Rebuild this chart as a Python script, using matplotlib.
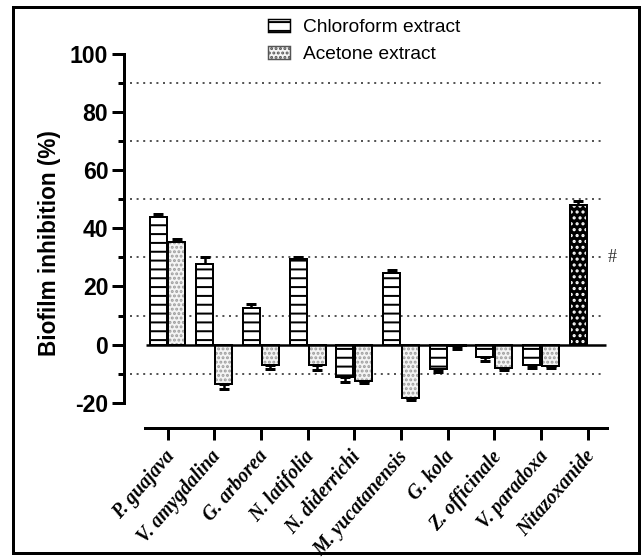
import numpy as np
import matplotlib.pyplot as plt
from matplotlib.patches import Patch, Rectangle
from matplotlib.transforms import ScaledTranslation

plants = ['P. guajava', 'V. amygdalina', 'G. arborea', 'N. latifolia', 'N. diderrichi',
          'M. yucatanensis', 'G. kola', 'Z. officinale', 'V. paradoxa']
tick_labels = plants + ['Nitazoxanide']

chloroform = [44.0, 27.8, 12.6, 29.5, -11.0, 24.6, -8.5, -4.3, -7.0]
chloroform_err = [1.0, 2.2, 1.5, 0.7, 1.8, 1.0, 0.9, 1.4, 1.1]
acetone = [35.4, -13.4, -6.9, -6.9, -12.4, -18.3, -0.5, -8.0, -7.4]
acetone_err = [1.1, 2.0, 1.5, 2.0, 0.7, 0.9, 1.0, 0.9, 0.6]
nitazoxanide = [48.0]
nitazoxanide_err = [1.4]

DPI = 106
W, H = 644, 560


def px(v):
    # pixel size -> points
    return v * 72 / DPI


plt.rcParams['hatch.linewidth'] = px(2)
plt.rcParams['axes.unicode_minus'] = False
plt.rcParams['font.family'] = 'Liberation Sans'

fig = plt.figure(figsize=(W / DPI, H / DPI), dpi=DPI)
ax = fig.add_axes([124.3 / W, (H - 402.7) / H, (607 - 124.3) / W, 348.7 / H])

x = np.arange(len(plants))
off = 0.203
w = 0.364


def one_sided(vals, errs):
    lo = [e if v < 0 else 0 for v, e in zip(vals, errs)]
    hi = [e if v >= 0 else 0 for v, e in zip(vals, errs)]
    return [lo, hi]


def bars(xs, vals, errs, face, hcolor, hatch):
    ax.errorbar(xs, vals, yerr=one_sided(vals, errs), fmt='none', ecolor='black',
                elinewidth=px(2.5), capsize=px(5), capthick=px(3), zorder=1)
    ax.bar(xs, vals, w, color=face, edgecolor=hcolor, hatch=hatch, linewidth=0, zorder=2)
    ax.bar(xs, vals, w, fill=False, edgecolor='black', linewidth=px(2), zorder=3)


bars(x - off, chloroform, chloroform_err, 'white', 'black', '--')
bars(x + off, acetone, acetone_err, '#f4f4f4', '#9c9c9c', '....')
bars([len(plants) - off], nitazoxanide, nitazoxanide_err, 'black', 'white', '...')

ax.hlines(0, -0.46, 9.39, color='black', lw=px(2.5), zorder=4)
ax.hlines([90, 70, 50, 30, 10, -10], -0.803, 9.33, colors='#555555',
          linestyles=(0, (1, 2.3)), lw=px(2), zorder=0)
ax.text(9.52, 30, '#', ha='center', va='center', fontsize=px(18), color='#333333',
        family='Liberation Serif')

ax.set_xlim(-0.925, 9.41)
ax.set_ylim(-20, 100)
for s in ['top', 'right', 'bottom']:
    ax.spines[s].set_visible(False)
ax.spines['left'].set_linewidth(px(3))
ax.set_xticks([])
ax.set_yticks(np.arange(-20, 101, 20))
ax.set_yticks(np.arange(-10, 91, 20), minor=True)
ax.tick_params(axis='y', which='major', length=px(12), width=px(3), pad=px(4),
               labelsize=px(23))
ax.tick_params(axis='y', which='minor', length=px(6), width=px(3))
for t in ax.get_yticklabels():
    t.set_fontweight('bold')
ax.patch.set_visible(False)

# category axis, drawn as its own axes below the plot
axb = fig.add_axes([145 / W, (H - 427.7) / H, (607 - 145) / W, 0.001])
axb.set_xlim(-0.482, 9.41)
for s in ['top', 'right', 'left']:
    axb.spines[s].set_visible(False)
axb.spines['bottom'].set_linewidth(px(3))
axb.set_yticks([])
axb.set_xticks(np.arange(len(tick_labels)))
axb.set_xticklabels(tick_labels, rotation=49, ha='right', rotation_mode='anchor',
                    family='Liberation Serif', fontweight='bold', fontstyle='italic',
                    fontsize=px(19.6))
axb.tick_params(axis='x', length=px(12), width=px(3), pad=px(4))
shift = ScaledTranslation(-4 / DPI, -3 / DPI, fig.dpi_scale_trans)
for lbl in axb.get_xticklabels():
    lbl.set_transform(lbl.get_transform() + shift)
axb.patch.set_visible(False)

fig.text(50 / W, 1 - 243 / H, 'Biofilm inhibition (%)', rotation=90, ha='center',
         va='center', fontweight='bold', fontsize=px(22.5))

handles = [Patch(facecolor='white', edgecolor='black', hatch='--'),
           Patch(facecolor='#f4f4f4', edgecolor='#555555', hatch='....')]
fig.legend(handles, ['Chloroform extract', 'Acetone extract'], loc='upper left',
           bbox_to_anchor=(268 / W, 1 - 18.7 / H), frameon=False, borderpad=0,
           borderaxespad=0, handlelength=1.15, handleheight=0.66, handletextpad=0.66,
           labelspacing=0.52, fontsize=px(19.2))

fig.add_artist(Rectangle((13 / W, 7 / H), 626 / W, 546 / H, transform=fig.transFigure,
                         fill=False, lw=px(3), edgecolor='black'))

fig.savefig('out.png', dpi=DPI)
